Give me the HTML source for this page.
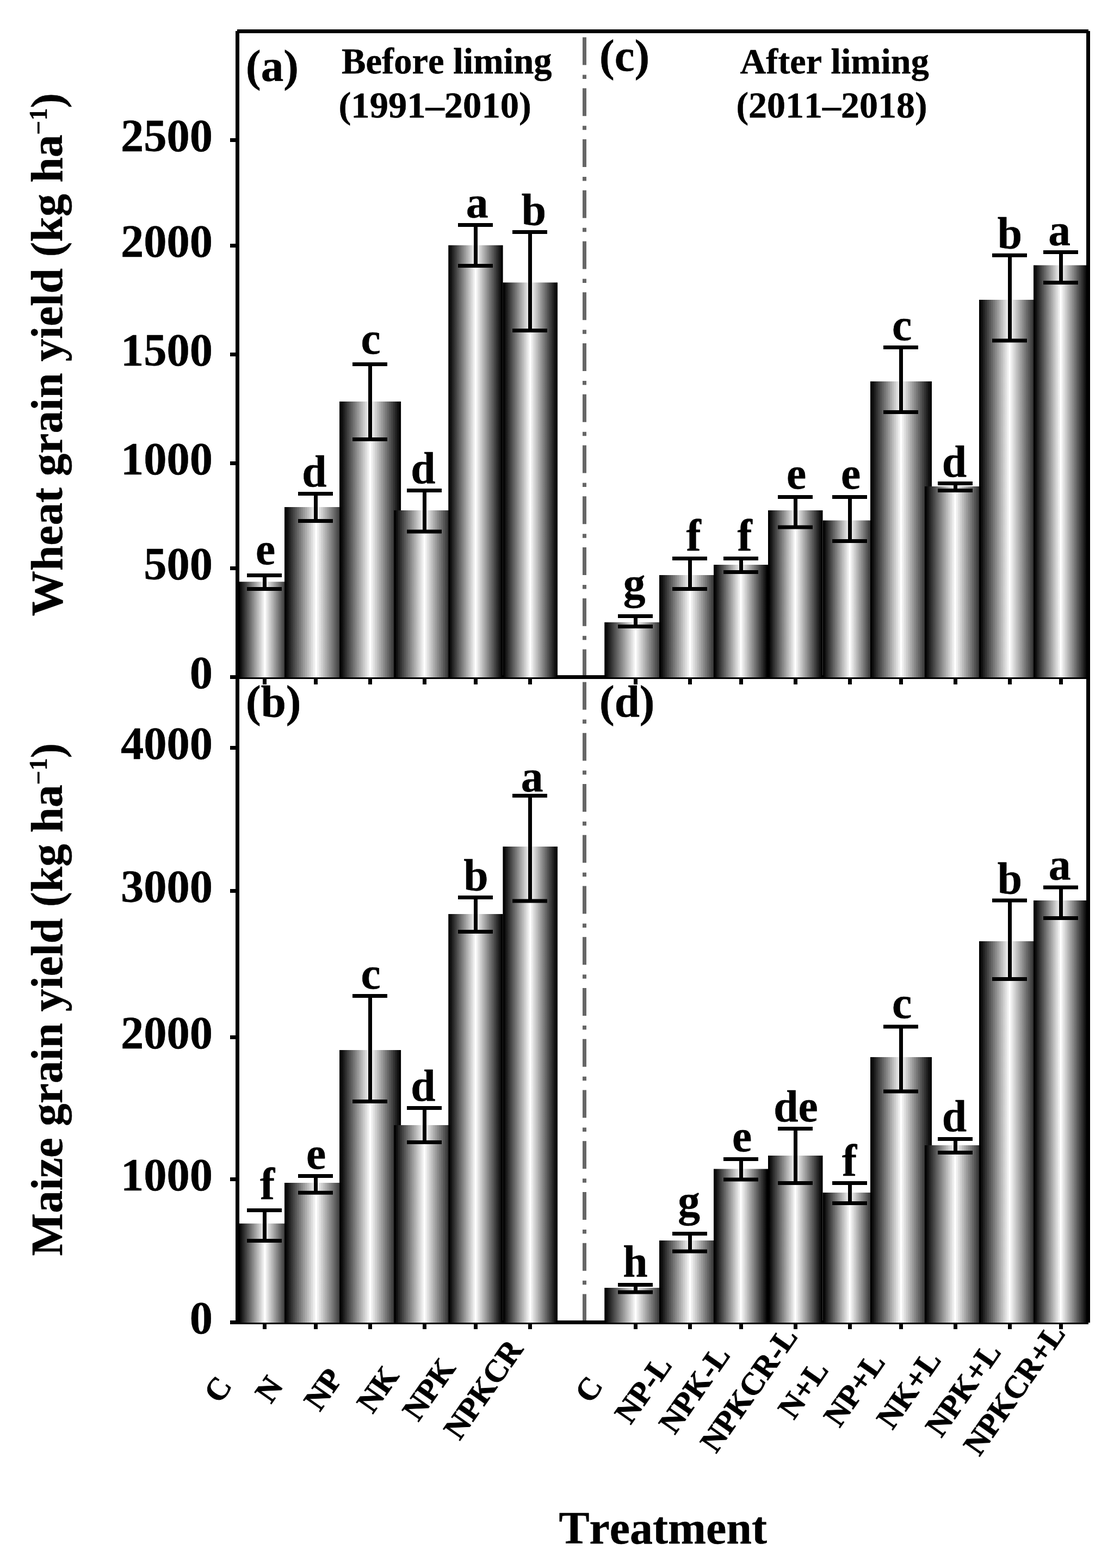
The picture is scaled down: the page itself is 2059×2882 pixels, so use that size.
<!DOCTYPE html>
<html lang="en"><head><meta charset="utf-8"><title>Grain yield before and after liming</title>
<style>
html,body{margin:0;padding:0;background:#fff;}
body{width:2059px;height:2882px;overflow:hidden;}
svg{display:block;}
text{font-family:"Liberation Serif", "Times New Roman", Times, serif;font-weight:bold;fill:#000;font-kerning:none;stroke:#000;stroke-width:0.5px;stroke-linejoin:round;}
.tk{font-size:84.5px;text-anchor:end;}
.lt{font-size:81.5px;text-anchor:middle;}
.pl{font-size:83px;}
.hd{font-size:66px;}
.xl{font-size:58px;text-anchor:middle;stroke:#000;stroke-width:0.9px;stroke-linejoin:round;}
.at{font-size:83.4px;}
.ln{stroke:#000;fill:none;}
</style></head><body>
<svg width="2059" height="2882" viewBox="0 0 2059 2882">
<defs>
<linearGradient id="g" x1="0" y1="0" x2="1" y2="0"><stop offset="0.00000" stop-color="#000000"/><stop offset="0.02516" stop-color="#000000"/><stop offset="0.03935" stop-color="#111111"/><stop offset="0.05742" stop-color="#111111"/><stop offset="0.07161" stop-color="#222222"/><stop offset="0.08968" stop-color="#222222"/><stop offset="0.10387" stop-color="#333333"/><stop offset="0.12194" stop-color="#333333"/><stop offset="0.13613" stop-color="#444444"/><stop offset="0.15419" stop-color="#444444"/><stop offset="0.16839" stop-color="#555555"/><stop offset="0.18645" stop-color="#555555"/><stop offset="0.20065" stop-color="#666666"/><stop offset="0.21871" stop-color="#666666"/><stop offset="0.23290" stop-color="#777777"/><stop offset="0.25097" stop-color="#777777"/><stop offset="0.26516" stop-color="#888888"/><stop offset="0.28323" stop-color="#888888"/><stop offset="0.29742" stop-color="#999999"/><stop offset="0.31548" stop-color="#999999"/><stop offset="0.32968" stop-color="#aaaaaa"/><stop offset="0.34774" stop-color="#aaaaaa"/><stop offset="0.36194" stop-color="#bbbbbb"/><stop offset="0.38000" stop-color="#bbbbbb"/><stop offset="0.39419" stop-color="#cccccc"/><stop offset="0.41226" stop-color="#cccccc"/><stop offset="0.42645" stop-color="#dddddd"/><stop offset="0.44452" stop-color="#dddddd"/><stop offset="0.45871" stop-color="#eeeeee"/><stop offset="0.47677" stop-color="#eeeeee"/><stop offset="0.49097" stop-color="#ffffff"/><stop offset="0.50903" stop-color="#ffffff"/><stop offset="0.52323" stop-color="#eeeeee"/><stop offset="0.54129" stop-color="#eeeeee"/><stop offset="0.55548" stop-color="#dddddd"/><stop offset="0.57355" stop-color="#dddddd"/><stop offset="0.58774" stop-color="#cccccc"/><stop offset="0.60581" stop-color="#cccccc"/><stop offset="0.62000" stop-color="#bbbbbb"/><stop offset="0.63806" stop-color="#bbbbbb"/><stop offset="0.65226" stop-color="#aaaaaa"/><stop offset="0.67032" stop-color="#aaaaaa"/><stop offset="0.68452" stop-color="#999999"/><stop offset="0.70258" stop-color="#999999"/><stop offset="0.71677" stop-color="#888888"/><stop offset="0.73484" stop-color="#888888"/><stop offset="0.74903" stop-color="#777777"/><stop offset="0.76710" stop-color="#777777"/><stop offset="0.78129" stop-color="#666666"/><stop offset="0.79935" stop-color="#666666"/><stop offset="0.81355" stop-color="#555555"/><stop offset="0.83161" stop-color="#555555"/><stop offset="0.84581" stop-color="#444444"/><stop offset="0.86387" stop-color="#444444"/><stop offset="0.87806" stop-color="#333333"/><stop offset="0.89613" stop-color="#333333"/><stop offset="0.91032" stop-color="#222222"/><stop offset="0.92839" stop-color="#222222"/><stop offset="0.94258" stop-color="#111111"/><stop offset="0.96065" stop-color="#111111"/><stop offset="0.97484" stop-color="#000000"/><stop offset="1.00000" stop-color="#000000"/></linearGradient>
<clipPath id="cp"><rect x="438" y="0" width="1566" height="2882"/></clipPath>
</defs>
<rect x="0" y="0" width="2059" height="2882" fill="#fff"/>
<g fill="#000">
<rect x="433" y="57" width="7" height="2377"/>
<rect x="436" y="54" width="1565" height="7"/>
<rect x="1997" y="57" width="7" height="2374"/>
<rect x="433" y="1241" width="1571" height="7"/>
<rect x="433" y="2427" width="1568" height="7"/>
<rect x="423" y="254.0" width="11" height="7"/>
<rect x="423" y="448.0" width="11" height="7"/>
<rect x="423" y="648.0" width="11" height="7"/>
<rect x="423" y="848.0" width="11" height="7"/>
<rect x="423" y="1041.0" width="11" height="7"/>
<rect x="423" y="1241.0" width="11" height="7"/>
<rect x="423" y="1371.0" width="11" height="7"/>
<rect x="423" y="1634.0" width="11" height="7"/>
<rect x="423" y="1903.0" width="11" height="7"/>
<rect x="423" y="2164.0" width="11" height="7"/>
<rect x="423" y="2427.0" width="11" height="7"/>
<rect x="483.0" y="1247" width="7" height="11"/>
<rect x="483.0" y="2433" width="7" height="10"/>
<rect x="577.0" y="1247" width="7" height="11"/>
<rect x="577.0" y="2433" width="7" height="10"/>
<rect x="677.0" y="1247" width="7" height="11"/>
<rect x="677.0" y="2433" width="7" height="10"/>
<rect x="777.0" y="1247" width="7" height="11"/>
<rect x="777.0" y="2433" width="7" height="10"/>
<rect x="871.0" y="1247" width="7" height="11"/>
<rect x="871.0" y="2433" width="7" height="10"/>
<rect x="971.0" y="1247" width="7" height="11"/>
<rect x="971.0" y="2433" width="7" height="10"/>
<rect x="1165.0" y="1247" width="7" height="11"/>
<rect x="1165.0" y="2433" width="7" height="10"/>
<rect x="1265.0" y="1247" width="7" height="11"/>
<rect x="1265.0" y="2433" width="7" height="10"/>
<rect x="1359.0" y="1247" width="7" height="11"/>
<rect x="1359.0" y="2433" width="7" height="10"/>
<rect x="1459.0" y="1247" width="7" height="11"/>
<rect x="1459.0" y="2433" width="7" height="10"/>
<rect x="1559.0" y="1247" width="7" height="11"/>
<rect x="1559.0" y="2433" width="7" height="10"/>
<rect x="1653.0" y="1247" width="7" height="11"/>
<rect x="1653.0" y="2433" width="7" height="10"/>
<rect x="1753.0" y="1247" width="7" height="11"/>
<rect x="1753.0" y="2433" width="7" height="10"/>
<rect x="1853.0" y="1247" width="7" height="11"/>
<rect x="1853.0" y="2433" width="7" height="10"/>
<rect x="1947.0" y="1247" width="7" height="11"/>
<rect x="1947.0" y="2433" width="7" height="10"/>
</g>
<g stroke="#666" stroke-width="7" fill="none">
<path d="M1074.5 68.6 V1241" stroke-dasharray="51 18 7.5 17.25"/>
<path d="M1074.5 1253.6 V2427" stroke-dasharray="51 18 7.5 17.25"/>
</g>
<g clip-path="url(#cp)" fill="url(#g)">
<rect x="438.50" y="1069.25" width="97.00" height="175.75"/>
<rect x="523.00" y="932.00" width="116.40" height="313.00"/>
<rect x="624.05" y="738.00" width="113.05" height="507.00"/>
<rect x="724.25" y="938.00" width="112.05" height="307.00"/>
<rect x="824.25" y="450.75" width="100.35" height="794.25"/>
<rect x="924.40" y="519.25" width="100.60" height="725.75"/>
<rect x="1111.25" y="1143.75" width="114.50" height="101.25"/>
<rect x="1212.00" y="1057.00" width="113.00" height="188.00"/>
<rect x="1312.00" y="1038.00" width="100.00" height="207.00"/>
<rect x="1412.00" y="938.00" width="100.50" height="307.00"/>
<rect x="1512.50" y="956.50" width="99.50" height="288.50"/>
<rect x="1600.00" y="701.00" width="113.00" height="544.00"/>
<rect x="1700.00" y="894.00" width="112.00" height="351.00"/>
<rect x="1800.00" y="551.00" width="112.00" height="694.00"/>
<rect x="1900.00" y="487.50" width="100.00" height="757.50"/>
</g>
<g clip-path="url(#cp)" fill="url(#g)">
<rect x="438.50" y="2248.80" width="97.00" height="182.20"/>
<rect x="523.00" y="2174.00" width="116.40" height="257.00"/>
<rect x="624.05" y="1930.00" width="113.05" height="501.00"/>
<rect x="724.25" y="2068.00" width="112.05" height="363.00"/>
<rect x="824.25" y="1680.00" width="100.35" height="751.00"/>
<rect x="924.40" y="1556.00" width="100.60" height="875.00"/>
<rect x="1111.25" y="2367.00" width="114.50" height="64.00"/>
<rect x="1212.00" y="2280.00" width="113.00" height="151.00"/>
<rect x="1312.00" y="2148.50" width="100.00" height="282.50"/>
<rect x="1412.00" y="2124.00" width="100.50" height="307.00"/>
<rect x="1512.50" y="2192.00" width="99.50" height="239.00"/>
<rect x="1600.00" y="1943.00" width="113.00" height="488.00"/>
<rect x="1700.00" y="2105.00" width="112.00" height="326.00"/>
<rect x="1800.00" y="1730.00" width="112.00" height="701.00"/>
<rect x="1900.00" y="1655.00" width="100.00" height="776.00"/>
</g>
<rect x="433" y="1245" width="1571" height="3" fill="#000"/>
<rect x="433" y="2431" width="1568" height="3" fill="#000"/>
<g class="ln" stroke-width="7.00">
<path d="M454.00 1057.50 H518.00 M454.00 1082.50 H518.00 M486.50 1057.50 V1082.50"/>
<path d="M548.00 907.50 H612.00 M548.00 957.50 H612.00 M580.50 907.50 V957.50"/>
<path d="M648.00 669.50 H712.00 M648.00 807.50 H712.00 M680.50 669.50 V807.50"/>
<path d="M748.00 901.50 H812.00 M748.00 977.00 H812.00 M780.50 901.50 V977.00"/>
<path d="M842.00 413.50 H906.00 M842.00 488.50 H906.00 M874.50 413.50 V488.50"/>
<path d="M942.00 426.50 H1006.00 M942.00 607.50 H1006.00 M974.50 426.50 V607.50"/>
<path d="M1136.00 1132.50 H1200.00 M1136.00 1151.50 H1200.00 M1168.50 1132.50 V1151.50"/>
<path d="M1236.00 1026.50 H1300.00 M1236.00 1082.50 H1300.00 M1268.50 1026.50 V1082.50"/>
<path d="M1330.00 1026.50 H1394.00 M1330.00 1051.50 H1394.00 M1362.50 1026.50 V1051.50"/>
<path d="M1430.00 913.50 H1494.00 M1430.00 969.00 H1494.00 M1462.50 913.50 V969.00"/>
<path d="M1530.00 913.50 H1594.00 M1530.00 994.50 H1594.00 M1562.50 913.50 V994.50"/>
<path d="M1624.00 638.50 H1688.00 M1624.00 757.50 H1688.00 M1656.50 638.50 V757.50"/>
<path d="M1724.00 888.50 H1788.00 M1724.00 901.50 H1788.00 M1756.50 888.50 V901.50"/>
<path d="M1824.00 469.20 H1888.00 M1824.00 626.00 H1888.00 M1856.50 469.20 V626.00"/>
<path d="M1918.00 463.50 H1982.00 M1918.00 519.50 H1982.00 M1950.50 463.50 V519.50"/>
</g>
<g class="ln" stroke-width="7.00">
<path d="M454.00 2224.50 H518.00 M454.00 2280.50 H518.00 M486.50 2224.50 V2280.50"/>
<path d="M548.00 2161.50 H612.00 M548.00 2192.20 H612.00 M580.50 2161.50 V2192.20"/>
<path d="M648.00 1830.50 H712.00 M648.00 2024.50 H712.00 M680.50 1830.50 V2024.50"/>
<path d="M748.00 2036.50 H812.00 M748.00 2099.50 H812.00 M780.50 2036.50 V2099.50"/>
<path d="M842.00 1649.50 H906.00 M842.00 1712.50 H906.00 M874.50 1649.50 V1712.50"/>
<path d="M942.00 1462.50 H1006.00 M942.00 1656.00 H1006.00 M974.50 1462.50 V1656.00"/>
<path d="M1136.00 2361.50 H1200.00 M1136.00 2375.00 H1200.00 M1168.50 2361.50 V2375.00"/>
<path d="M1236.00 2267.50 H1300.00 M1236.00 2300.00 H1300.00 M1268.50 2267.50 V2300.00"/>
<path d="M1330.00 2130.50 H1394.00 M1330.00 2168.00 H1394.00 M1362.50 2130.50 V2168.00"/>
<path d="M1430.00 2074.50 H1494.00 M1430.00 2174.50 H1494.00 M1462.50 2074.50 V2174.50"/>
<path d="M1530.00 2174.50 H1594.00 M1530.00 2211.50 H1594.00 M1562.50 2174.50 V2211.50"/>
<path d="M1624.00 1887.00 H1688.00 M1624.00 2006.00 H1688.00 M1656.50 1887.00 V2006.00"/>
<path d="M1724.00 2093.50 H1788.00 M1724.00 2118.50 H1788.00 M1756.50 2093.50 V2118.50"/>
<path d="M1824.00 1655.00 H1888.00 M1824.00 1799.50 H1888.00 M1856.50 1655.00 V1799.50"/>
<path d="M1918.00 1631.00 H1982.00 M1918.00 1687.50 H1982.00 M1950.50 1631.00 V1687.50"/>
</g>
<text class="lt" x="488.0" y="1037.0">e</text>
<text class="lt" x="578.0" y="894.0">d</text>
<text class="lt" x="681.5" y="649.5">c</text>
<text class="lt" x="778.0" y="887.5">d</text>
<text class="lt" x="877.0" y="400.0">a</text>
<text class="lt" x="981.5" y="412.5">b</text>
<text class="lt" x="1166.0" y="1100.0">g</text>
<text class="lt" x="1275.0" y="1011.5">f</text>
<text class="lt" x="1369.0" y="1011.5">f</text>
<text class="lt" x="1464.0" y="898.3">e</text>
<text class="lt" x="1564.0" y="898.3">e</text>
<text class="lt" x="1658.0" y="625.0">c</text>
<text class="lt" x="1754.5" y="876.0">d</text>
<text class="lt" x="1856.5" y="456.0">b</text>
<text class="lt" x="1947.5" y="450.5">a</text>
<text class="lt" x="491.5" y="2203.5">f</text>
<text class="lt" x="581.0" y="2148.2">e</text>
<text class="lt" x="681.5" y="1817.0">c</text>
<text class="lt" x="778.0" y="2022.7">d</text>
<text class="lt" x="875.0" y="1636.0">b</text>
<text class="lt" x="978.0" y="1455.0">a</text>
<text class="lt" x="1168.0" y="2346.0">h</text>
<text class="lt" x="1266.5" y="2235.0">g</text>
<text class="lt" x="1364.0" y="2116.0">e</text>
<text class="lt" x="1463.0" y="2061.0">de</text>
<text class="lt" x="1561.5" y="2160.6">f</text>
<text class="lt" x="1658.0" y="1871.0">c</text>
<text class="lt" x="1754.5" y="2078.5">d</text>
<text class="lt" x="1856.5" y="1642.0">b</text>
<text class="lt" x="1948.0" y="1617.0">a</text>
<text class="tk" x="391.0" y="278.1">2500</text>
<text class="tk" x="391.0" y="472.1">2000</text>
<text class="tk" x="391.0" y="672.1">1500</text>
<text class="tk" x="391.0" y="872.1">1000</text>
<text class="tk" x="391.0" y="1065.1">500</text>
<text class="tk" x="391.0" y="1265.1">0</text>
<text class="tk" x="391.0" y="1395.1">4000</text>
<text class="tk" x="391.0" y="1658.1">3000</text>
<text class="tk" x="391.0" y="1927.1">2000</text>
<text class="tk" x="391.0" y="2188.1">1000</text>
<text class="tk" x="391.0" y="2451.1">0</text>
<text class="pl" x="452" y="149">(a)</text>
<text class="pl" x="452" y="1317">(b)</text>
<text class="pl" x="1102" y="130">(c)</text>
<text class="pl" x="1102" y="1317">(d)</text>
<text class="hd" x="628" y="135" style="font-size:66.6px">Before liming</text>
<text class="hd" x="622.5" y="216" style="font-size:68.6px">(1991–2010)</text>
<text class="hd" x="1360.4" y="135" style="font-size:66.2px">After liming</text>
<text class="hd" x="1353.4" y="216" style="font-size:68px">(2011–2018)</text>
<text class="at" transform="translate(114.3 1132.4) rotate(-90)">Wheat grain yield (kg ha<tspan font-size="45.5" dy="-28">−1</tspan><tspan dy="28">)</tspan></text>
<text class="at" transform="translate(114.3 2308.5) rotate(-90)">Maize grain yield (kg ha<tspan font-size="45.5" dy="-28">−1</tspan><tspan dy="28">)</tspan></text>
<text class="at" x="1027.5" y="2837.4" style="font-size:84px">Treatment</text>
<text class="xl" transform="translate(400.5 2553.7) rotate(-55)" dy="0.33em">C</text>
<text class="xl" transform="translate(494.5 2553.7) rotate(-55)" dy="0.33em">N</text>
<text class="xl" transform="translate(594.5 2553.7) rotate(-55)" dy="0.33em">NP</text>
<text class="xl" transform="translate(694.5 2553.7) rotate(-55)" dy="0.33em">NK</text>
<text class="xl" transform="translate(788.5 2553.7) rotate(-55)" dy="0.33em">NPK</text>
<text class="xl" transform="translate(888.5 2553.7) rotate(-55)" dy="0.33em">NPKCR</text>
<text class="xl" transform="translate(1082.5 2553.7) rotate(-55)" dy="0.33em">C</text>
<text class="xl" transform="translate(1182.5 2553.7) rotate(-55)" dy="0.33em">NP-L</text>
<text class="xl" transform="translate(1276.5 2553.7) rotate(-55)" dy="0.33em">NPK-L</text>
<text class="xl" transform="translate(1376.5 2553.7) rotate(-55)" dy="0.33em">NPKCR-L</text>
<text class="xl" transform="translate(1476.5 2553.7) rotate(-55)" dy="0.33em">N+L</text>
<text class="xl" transform="translate(1570.5 2553.7) rotate(-55)" dy="0.33em">NP+L</text>
<text class="xl" transform="translate(1670.5 2553.7) rotate(-55)" dy="0.33em">NK+L</text>
<text class="xl" transform="translate(1770.5 2553.7) rotate(-55)" dy="0.33em">NPK+L</text>
<text class="xl" transform="translate(1864.5 2553.7) rotate(-55)" dy="0.33em">NPKCR+L</text>
</svg>
</body></html>
